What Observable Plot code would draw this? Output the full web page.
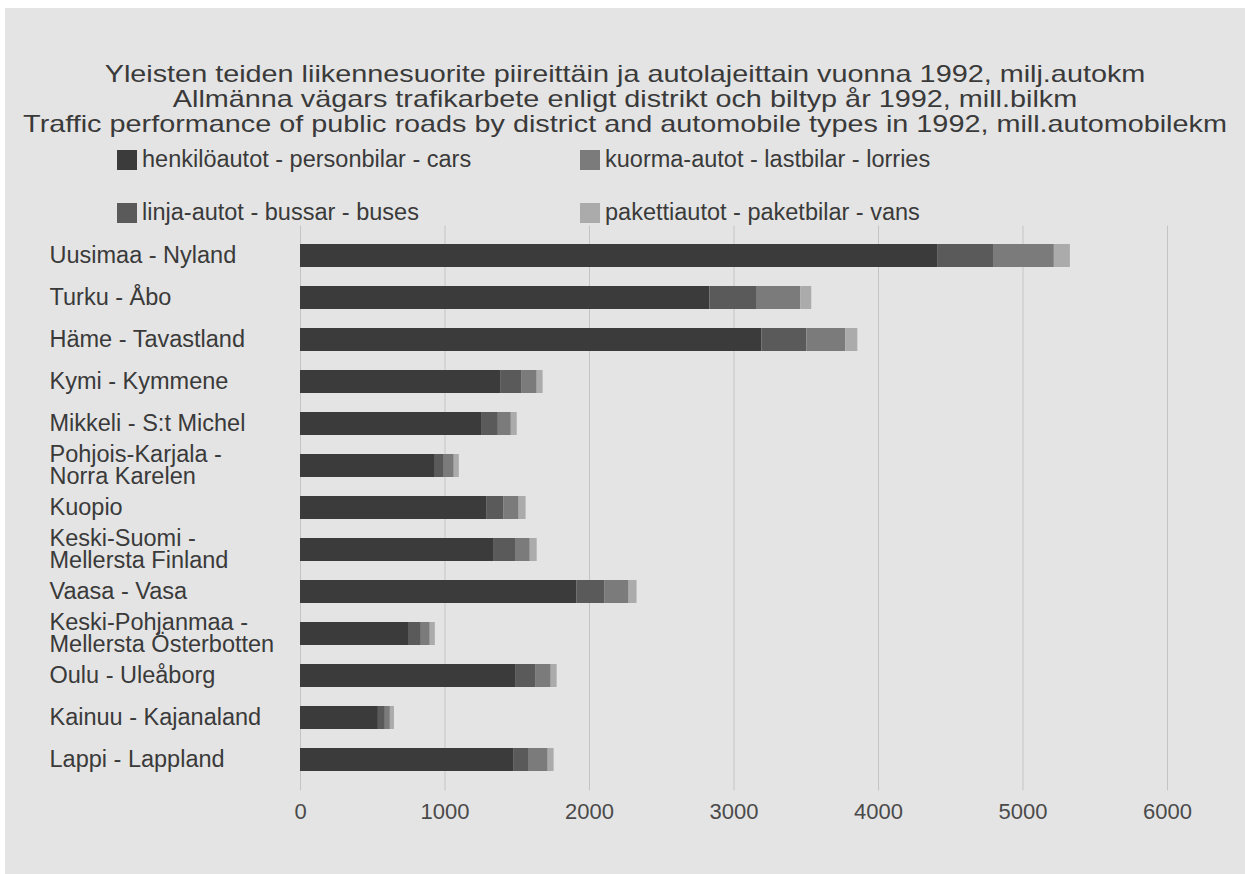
<!DOCTYPE html>
<html><head><meta charset="utf-8">
<script src="https://cdn.jsdelivr.net/npm/d3@7"></script>
<script src="https://cdn.jsdelivr.net/npm/@observablehq/plot@0.6"></script>
<style>
html,body{margin:0;padding:0;background:#fff;}
#wrap{width:1240px;height:866px;background:#e4e4e4;border-top:8px solid #fff;border-left:5px solid #fff;font-family:"Liberation Sans",Arial,sans-serif;color:#3a3a3a;}
#header{position:relative;height:212px;}
#title{position:absolute;left:0;width:1240px;top:53px;text-align:center;font-size:24px;line-height:25px;white-space:nowrap;transform:scaleX(1.2);transform-origin:620px 0;}
.lg{position:absolute;display:flex;align-items:center;font-size:23.5px;white-space:nowrap;}
.sw{width:20px;height:20px;margin-right:5px;}
svg{display:block;}
</style></head>
<body><div id="wrap"><div id="header"><div id="title"></div></div></div>
<script>
const titleLines = [
  "Yleisten teiden liikennesuorite piireittäin ja autolajeittain vuonna 1992, milj.autokm",
  "Allmänna vägars trafikarbete enligt distrikt och biltyp år 1992, mill.bilkm",
  "Traffic performance of public roads by district and automobile types in 1992, mill.automobilekm"
];
const districts = [
  "Uusimaa - Nyland",
  "Turku - Åbo",
  "Häme - Tavastland",
  "Kymi - Kymmene",
  "Mikkeli - S:t Michel",
  "Pohjois-Karjala -\nNorra Karelen",
  "Kuopio",
  "Keski-Suomi -\nMellersta Finland",
  "Vaasa - Vasa",
  "Keski-Pohjanmaa -\nMellersta Österbotten",
  "Oulu - Uleåborg",
  "Kainuu - Kajanaland",
  "Lappi - Lappland"
];
const types = [
  "henkilöautot - personbilar - cars",
  "linja-autot - bussar - buses",
  "kuorma-autot - lastbilar - lorries",
  "pakettiautot - paketbilar - vans"
];
const colors = ["#3b3b3b", "#5a5a5a", "#7b7b7b", "#ababab"];
const cars    = [4409, 2833, 3193, 1389, 1258, 933, 1292, 1341, 1914, 753, 1493, 539, 1479];
const buses   = [387, 328, 311, 145, 111, 62, 117, 152, 194, 83, 138, 48, 104];
const lorries = [421, 301, 270, 104, 90, 69, 104, 97, 166, 62, 104, 35, 131];
const vans    = [111, 76, 83, 41, 41, 35, 48, 48, 55, 35, 41, 28, 41];
const xTicks = [0, 1000, 2000, 3000, 4000, 5000, 6000];

const series = [cars, buses, lorries, vans];
const data = [];
districts.forEach((d, i) => series.forEach((s, k) => data.push({district: d, type: types[k], value: s[i]})));

document.getElementById("title").innerHTML = titleLines.join("<br>");
const header = document.getElementById("header");
const legendPos = [[112, 138], [112, 191], [575, 138], [575, 191]];
types.forEach((t, k) => {
  const el = document.createElement("div");
  el.className = "lg";
  el.style.left = legendPos[k][0] + "px";
  el.style.top = legendPos[k][1] + "px";
  el.innerHTML = `<div class="sw" style="background:${colors[k]}"></div><span>${t}</span>`;
  header.appendChild(el);
});

const chart = Plot.plot({
  width: 1240,
  height: 654,
  marginTop: 5.5,
  marginBottom: 83.5,
  marginLeft: 295,
  marginRight: 78,
  style: {background: "transparent", fontFamily: "'Liberation Sans', Arial, sans-serif", color: "#444"},
  x: {domain: [0, 6000]},
  y: {domain: districts, padding: 0.45},
  color: {domain: types, range: colors},
  marks: [
    Plot.gridX(xTicks, {stroke: "#c4c4c4", strokeOpacity: 1, strokeWidth: 1}),
    Plot.barX(data, Plot.stackX({y: "district", x: "value", fill: "type"})),
    Plot.axisX(xTicks, {tickSize: 0, tickPadding: 12, fontSize: 22, label: null, fill: "#4a4a4a", tickFormat: d => String(d)}),
    Plot.axisY({tickSize: 0, tickPadding: 0, textAnchor: "start", dx: -251, fontSize: 23.5, lineHeight: 0.94, label: null, fill: "#3a3a3a"})
  ]
});
document.getElementById("wrap").appendChild(chart);
</script>
</body></html>
